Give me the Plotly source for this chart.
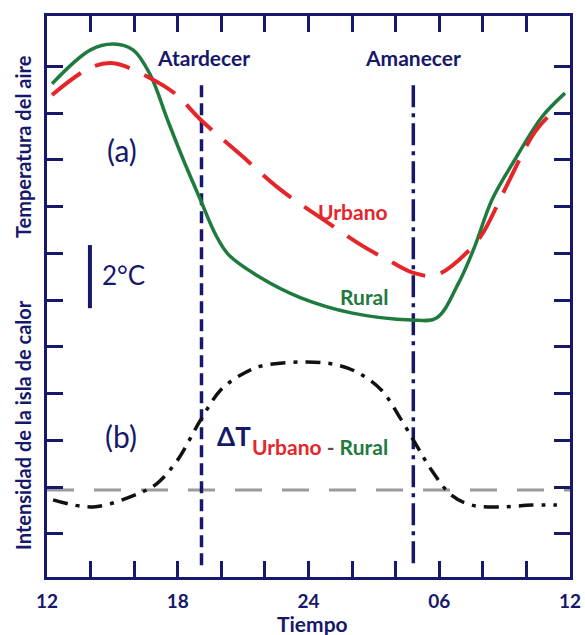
import plotly.graph_objects as go
import numpy as np

# ---------------- data (hours 12..36, temperature-like units) ----------------
rural_x = [12.23, 13.98, 15.04, 15.96, 16.74, 17.53, 18.26, 19.05, 19.74, 20.34, 21.81, 23.65,
           25.96, 28.72, 29.87, 30.89, 31.62, 32.41, 33.46, 34.71, 35.77]
rural_y = [10.55, 11.27, 11.40, 11.27, 10.74, 9.78, 8.92, 8.06, 7.32, 6.89, 6.40, 5.97,
           5.65, 5.50, 5.54, 6.29, 7.06, 8.06, 8.92, 9.84, 10.35]

urban_x = [12.23, 13.98, 15.04, 16.74, 17.90, 19.05, 20.89, 22.73, 24.57, 26.42, 27.80,
           28.86, 29.87, 31.48, 32.08, 33.00, 34.39, 35.31]
urban_y = [10.31, 10.89, 10.99, 10.67, 10.33, 9.78, 9.03, 8.28, 7.68, 7.10, 6.74,
           6.50, 6.46, 7.04, 7.42, 8.28, 9.52, 9.99]

dt_x = [12.28, 14.12, 16.28, 17.07, 17.99, 19.05, 19.97, 20.89, 21.81, 23.65, 25.04, 26.19,
        27.34, 28.26, 28.95, 29.64, 30.56, 31.48, 32.87, 34.25, 35.40]
dt_y = [1.65, 1.50, 1.80, 2.01, 2.50, 3.36, 4.00, 4.32, 4.51, 4.60, 4.56, 4.39,
        4.00, 3.36, 2.82, 2.29, 1.75, 1.54, 1.50, 1.54, 1.54]

zero_x = [12, 36]
zero_y = [1.86, 1.86]

atardecer_x = [19.09, 19.09]
amanecer_x = [28.81, 28.81]
event_y = [10.52, 0.25]

scale_x = [13.97, 13.97]
scale_y = [7.10, 5.75]

tick_hours = list(range(12, 37, 2))
tick_text = ["12", "", "", "18", "", "", "24", "", "", "06", "", "", "12"]
ytick_vals = [k - 0.08 for k in range(1, 12)]

NAVY = "#16186b"
RED = "#e4262b"
GREEN = "#1f7a3e"
BLACK = "#111111"
GRAY = "#9a9a9a"
FONT = "Lato"

fig = go.Figure()

fig.add_trace(go.Scatter(x=zero_x, y=zero_y, mode="lines",
                         line=dict(color=GRAY, width=3, dash="27px,20px")))
fig.add_trace(go.Scatter(x=atardecer_x, y=event_y, mode="lines",
                         line=dict(color=NAVY, width=3.5, dash="12px,6px")))
fig.add_trace(go.Scatter(x=amanecer_x, y=event_y, mode="lines",
                         line=dict(color=NAVY, width=3.5, dash="22px,6px,4px,6px")))
fig.add_trace(go.Scatter(x=dt_x, y=dt_y, mode="lines", line_shape="spline",
                         line=dict(color=BLACK, width=3.5, dash="15px,8px,4px,8px")))
fig.add_trace(go.Scatter(x=rural_x, y=rural_y, mode="lines", line_shape="spline",
                         line=dict(color=GREEN, width=3.5)))
fig.add_trace(go.Scatter(x=urban_x, y=urban_y, mode="lines", line_shape="spline",
                         line=dict(color=RED, width=4, dash="36px,16px")))
fig.add_trace(go.Scatter(x=scale_x, y=scale_y, mode="lines",
                         line=dict(color=NAVY, width=4)))

def ann(text, x, y, size, color=NAVY, bold=True, xanchor="center", xref="x", yref="y", angle=0):
    fig.add_annotation(text=text, x=x, y=y, xref=xref, yref=yref, showarrow=False,
                       xanchor=xanchor, yanchor="middle", textangle=angle,
                       font=dict(family=FONT, size=size, color=color,
                                 weight="bold" if bold else "normal"))

ann("Atardecer", 19.2, 11.12, 21)
ann("Amanecer", 28.8, 11.12, 21)
ann("(a)", 15.44, 9.13, 30, bold=False)
ann("(b)", 15.40, 3.02, 30, bold=False)
ann("2°C", 14.43, 6.46, 26, bold=False, xanchor="left")
ann("Urbano", 26.04, 7.81, 21, color=RED)
ann("Rural", 26.59, 6.01, 21, color=GREEN)
ann("ΔT", 19.71, 3.02, 26, xanchor="left")
ann("<span style='color:%s'>Urbano</span> - <span style='color:%s'>Rural</span>" % (RED, GREEN),
    21.32, 2.80, 21, color="#6a4a4a", xanchor="left")
ann("Temperatura del aire", -0.046, 0.768, 20, xref="paper", yref="paper", angle=-90)
ann("Intensidad de la isla de calor", -0.046, 0.271, 20, xref="paper", yref="paper", angle=-90)
ann("Tiempo", 0.507, -0.082, 21, xref="paper", yref="paper")

fig.update_layout(
    width=585, height=635,
    margin=dict(l=47, r=15, t=16, b=58, autoexpand=False),
    paper_bgcolor="white", plot_bgcolor="white",
    showlegend=False,
    xaxis=dict(range=[12, 36], tickvals=tick_hours, ticktext=tick_text,
               ticks="inside", ticklen=16, tickwidth=3, tickcolor=NAVY,
               showline=True, linewidth=3, linecolor=NAVY, mirror="allticks",
               showgrid=False, zeroline=False, ticklabelstandoff=5, automargin=False,
               tickfont=dict(family=FONT, size=19, color=NAVY, weight="bold")),
    yaxis=dict(range=[0, 12], tickvals=ytick_vals, showticklabels=False,
               ticks="inside", ticklen=16, tickwidth=3, tickcolor=NAVY,
               showline=True, linewidth=3, linecolor=NAVY, mirror="allticks",
               showgrid=False, zeroline=False, automargin=False),
)

fig.write_html("out.html", config={"displayModeBar": False},
               post_script="document.body.style.margin='0px';document.body.style.overflow='hidden';")
